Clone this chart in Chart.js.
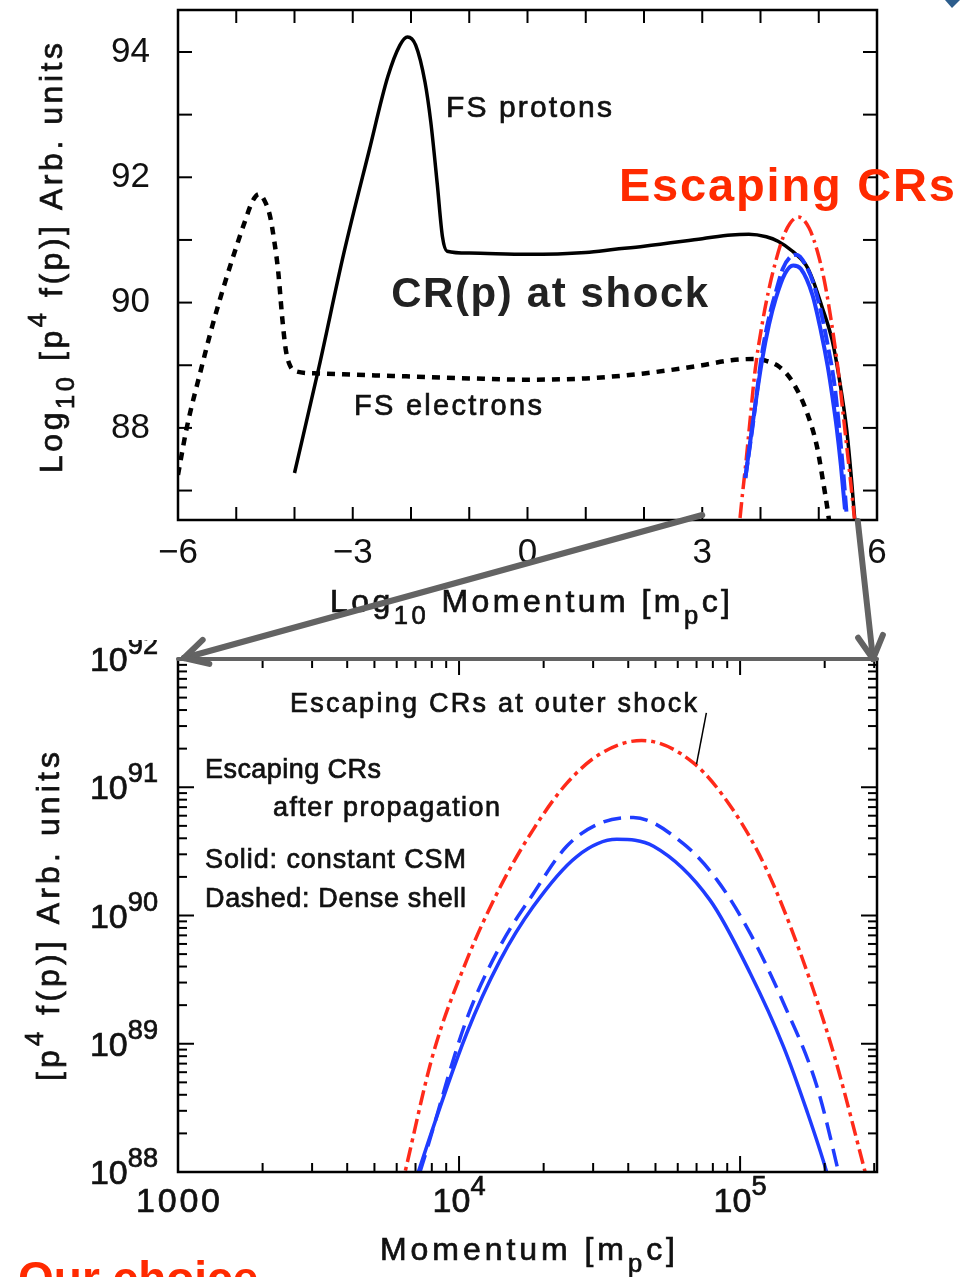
<!DOCTYPE html>
<html>
<head>
<meta charset="utf-8">
<script src="https://cdn.jsdelivr.net/npm/chart.js@4.4.1/dist/chart.umd.min.js"></script>
<style>
  html, body { margin: 0; padding: 0; background: #fff; }
  #wrap { position: relative; width: 977px; height: 1277px; overflow: hidden; }
  canvas { position: absolute; left: 0; }
  #topChart { top: 0; }
  #bottomChart { top: 640px; }
  #overlay { top: 0; pointer-events: none; }
</style>
</head>
<body>
<div id="wrap">
  <canvas id="topChart" width="977" height="640"></canvas>
  <canvas id="bottomChart" width="977" height="637"></canvas>
  <canvas id="overlay" width="977" height="1277"></canvas>
</div>
<script>
// ---- data (log10 momentum [mpc], log10 p^4 f(p)) ----
// FS electrons (top panel, dashed black)
const electronLogP = [-6, -5.85, -5.6, -5.41, -5.2, -5.03, -4.85, -4.72, -4.61, -4.5, -4.42, -4.35, -4.28, -4.21, -4.15, -4.08, -3.96, -3.6, -3, -2, -1, 0, 1, 2, 3, 3.5, 3.87, 4.1, 4.33, 4.56, 4.8, 4.97, 5.07, 5.16, 5.22];
const electronLogF = [87.25, 88.0, 88.95, 89.63, 90.3, 90.8, 91.3, 91.62, 91.73, 91.6, 91.38, 91.0, 90.5, 89.75, 89.25, 89.0, 88.9, 88.87, 88.85, 88.82, 88.79, 88.77, 88.79, 88.87, 89.0, 89.08, 89.1, 89.07, 88.97, 88.72, 88.24, 87.7, 87.17, 86.64, 86.2];

// FS protons (top panel, solid black)
const protonLogP = [-4.0, -3.58, -3.15, -2.72, -2.4, -2.19, -2.06, -1.92, -1.76, -1.66, -1.55, -1.46, -1.38, -1.0, 0, 1, 1.5, 2, 3, 3.5, 3.8, 4.1, 4.3, 4.55, 4.78, 4.9, 5.05, 5.23, 5.35, 5.48, 5.56, 5.62, 5.66];
const protonLogF = [87.28, 88.97, 90.8, 92.42, 93.6, 94.11, 94.24, 94.11, 93.52, 92.88, 91.9, 91.05, 90.82, 90.79, 90.77, 90.8, 90.85, 90.9, 91.02, 91.08, 91.09, 91.05, 90.98, 90.82, 90.6, 90.36, 89.95, 89.4, 88.8, 87.97, 87.2, 86.53, 86.2];

// Escaping CRs at outer shock (red dash-dot, both panels)
const shockLogP = [3.6, 3.68, 3.75, 3.808, 3.909, 4.027, 4.146, 4.264, 4.383, 4.502, 4.65, 4.834, 4.976, 5.095, 5.214, 5.332, 5.445, 5.54, 5.63];
const shockLogF = [86.1, 86.85, 87.45, 88.0, 88.93, 89.65, 90.22, 90.67, 91.03, 91.26, 91.365, 91.19, 90.82, 90.355, 89.71, 88.93, 88.0, 87.2, 86.4];

// After propagation, constant CSM (blue solid)
const solidLogP = [3.74, 3.855, 4.027, 4.146, 4.264, 4.419, 4.561, 4.692, 4.893, 5.036, 5.154, 5.237, 5.308, 5.38, 5.45];
const solidLogF = [87.2, 88.0, 89.08, 89.65, 90.07, 90.46, 90.594, 90.54, 90.12, 89.55, 88.98, 88.48, 88.0, 87.4, 86.7];

// After propagation, dense shell (blue dashed)
const denseLogP = [3.74, 3.861, 4.027, 4.146, 4.264, 4.383, 4.502, 4.62, 4.798, 4.917, 5.036, 5.154, 5.273, 5.35, 5.42, 5.48];
const denseLogF = [87.2, 88.0, 89.19, 89.76, 90.17, 90.54, 90.72, 90.765, 90.56, 90.28, 89.86, 89.32, 88.67, 88.0, 87.3, 86.6];

// ticks
const topXTicks = [-6, -3, 0, 3, 6];
const topYTicks = [88, 90, 92, 94];
const bottomXTicks = [1000, 1e4, 1e5];
const bottomYExponents = [88, 89, 90, 91, 92];

const FONT = '"Liberation Sans", Arial, Helvetica, sans-serif';
const RED = '#ff2a1a';
const BLUE = '#1f3cff';
const INK = '#111';

// Draw text char by char, optional sub/superscripts, spread to a target width
function drawRich(ctx, parts, x, y, o) {
    const size = o.size;
    const weight = o.weight || 'normal';
    const glyphs = [];
    parts.forEach(([text, kind]) => {
        const s = kind === 'n' ? size : size * 0.8;
        const dy = kind === 'sub' ? size * 0.38 : kind === 'sup' ? -size * 0.5 : 0;
        ctx.font = `${weight} ${s}px ${FONT}`;
        for (const ch of text) glyphs.push({ ch, s, dy, w: ctx.measureText(ch).width });
    });
    const natural = glyphs.reduce((sum, g) => sum + g.w, 0);
    const total = o.width || natural;
    const gap = glyphs.length > 1 ? (total - natural) / (glyphs.length - 1) : 0;
    let cx = o.align === 'center' ? -total / 2 : o.align === 'right' ? -total : 0;
    ctx.save();
    ctx.translate(x, y);
    if (o.rotate) ctx.rotate(o.rotate);
    ctx.fillStyle = o.color || INK;
    ctx.strokeStyle = o.color || INK;
    ctx.lineWidth = 0.7;
    ctx.textAlign = 'left';
    ctx.textBaseline = 'alphabetic';
    glyphs.forEach(g => {
        ctx.font = `${weight} ${g.s}px ${FONT}`;
        ctx.fillText(g.ch, cx, g.dy);
        // slightly heavier strokes for the plain plot lettering
        if (weight === 'normal') ctx.strokeText(g.ch, cx, g.dy);
        cx += g.w + gap;
    });
    ctx.restore();
}

function line(ctx, x1, y1, x2, y2) {
    ctx.beginPath();
    ctx.moveTo(x1, y1);
    ctx.lineTo(x2, y2);
    ctx.stroke();
}

function series(lp, lf, pow) {
    return lp.map((v, i) => pow ? { x: 10 ** v, y: 10 ** lf[i] } : { x: v, y: lf[i] });
}

function curve(data, color, width, dash, order) {
    return {
        data: data,
        borderColor: color,
        borderWidth: width,
        borderDash: dash,
        borderCapStyle: 'butt',
        pointRadius: 0,
        fill: false,
        cubicInterpolationMode: 'monotone',
        clip: 0,
        order: order
    };
}

// keep the plot box exactly where the axis sizes put it
function fixSize(prop, value) {
    return s => {
        s[prop] = value;
        s.paddingTop = 0;
        s.paddingBottom = 0;
        s.paddingLeft = 0;
        s.paddingRight = 0;
    };
}

// Frame with inward ticks on all four sides
function makeFrame(xMarks, yMarks) {
    return {
        id: 'frame',
        afterDatasetsDraw(chart) {
            const { ctx, chartArea: a, scales: { x, y } } = chart;
            ctx.save();
            ctx.strokeStyle = '#000';
            ctx.lineWidth = 2;
            xMarks.forEach(([v, len]) => {
                const px = x.getPixelForValue(v);
                line(ctx, px, a.bottom, px, a.bottom - len);
                line(ctx, px, a.top, px, a.top + len);
            });
            yMarks.forEach(([v, len]) => {
                const py = y.getPixelForValue(v);
                line(ctx, a.left, py, a.left + len, py);
                line(ctx, a.right, py, a.right - len, py);
            });
            ctx.lineWidth = 2.5;
            ctx.strokeRect(a.left, a.top, a.width, a.height);
            ctx.restore();
        }
    };
}

// Text notes placed by data value, plus axis titles placed by pixel
function makeNotes(items, extra) {
    return {
        id: 'notes',
        afterDraw(chart) {
            const { ctx, scales: { x, y } } = chart;
            items.forEach(n => {
                const px = n.at ? x.getPixelForValue(n.at[0]) : n.px[0];
                const py = n.at ? y.getPixelForValue(n.at[1]) : n.px[1];
                drawRich(ctx, n.parts, px, py, n);
            });
            if (extra) extra(chart);
        }
    };
}

// ---------------- top panel ----------------
const topXMarks = [];
for (let v = -6; v <= 6; v++) topXMarks.push([v, 13]);
const topYMarks = [];
for (let v = 87; v <= 94; v++) topYMarks.push([v, 14]);

const topNotes = [
    { parts: [['FS protons', 'n']], at: [-1.40, 92.96], size: 30, width: 166 },
    { parts: [['FS electrons', 'n']], at: [-2.98, 88.21], size: 29, width: 188 },
    { parts: [['CR(p) at shock', 'n']], at: [-2.34, 89.93], size: 42, weight: 'bold', width: 317, color: '#222' },
    { parts: [['Escaping CRs', 'n']], at: [1.57, 91.62], size: 47, weight: 'bold', width: 336, color: '#ff2a00' },
    { parts: [['Log', 'n'], ['10', 'sub'], [' Momentum [m', 'n'], ['p', 'sub'], ['c]', 'n']], px: [330, 612], size: 32, width: 400 },
    { parts: [['Log', 'n'], ['10', 'sub'], [' [p', 'n'], ['4', 'sup'], [' f(p)] Arb. units', 'n']], px: [62, 473], size: 32, width: 430, rotate: -Math.PI / 2 }
];

const topChart = new Chart(document.getElementById('topChart'), {
    type: 'line',
    data: {
        datasets: [
            curve(series(electronLogP, electronLogF), '#000', 4.5, [8, 7], 5),
            curve(series(protonLogP, protonLogF), '#000', 3.5, [], 4),
            curve(series(shockLogP, shockLogF), RED, 3.5, [16, 5, 3, 5], 3),
            curve(series(denseLogP, denseLogF), BLUE, 4, [16, 5], 2),
            curve(series(solidLogP, solidLogF), BLUE, 4, [], 1)
        ]
    },
    options: {
        responsive: false,
        animation: false,
        layout: { padding: { top: 10, right: 100, left: 0, bottom: 0 } },
        plugins: { legend: { display: false }, tooltip: { enabled: false } },
        scales: {
            x: {
                type: 'linear',
                min: -6,
                max: 6,
                afterFit: fixSize('height', 120),
                afterBuildTicks: s => { s.ticks = topXTicks.map(v => ({ value: v })); },
                grid: { display: false, drawTicks: false },
                border: { display: false },
                ticks: {
                    autoSkip: false,
                    maxRotation: 0,
                    padding: 12,
                    color: INK,
                    font: { size: 35, family: FONT },
                    callback: v => v < 0 ? '\u2212' + (-v) : String(v)
                }
            },
            y: {
                type: 'linear',
                min: 86.53,
                max: 94.67,
                afterFit: fixSize('width', 178),
                afterBuildTicks: s => { s.ticks = topYTicks.map(v => ({ value: v })); },
                grid: { display: false, drawTicks: false },
                border: { display: false },
                ticks: {
                    autoSkip: false,
                    padding: 28,
                    color: INK,
                    font: { size: 35, family: FONT }
                }
            }
        }
    },
    plugins: [makeFrame(topXMarks, topYMarks), makeNotes(topNotes)]
});

// ---------------- bottom panel ----------------
const botXMarks = [];
[3, 4, 5].forEach(d => {
    botXMarks.push([10 ** d, 16]);
    for (let k = 2; k <= 9; k++) if (k * 10 ** d <= 3.07e5) botXMarks.push([k * 10 ** d, 9]);
});
const botYMarks = [];
[88, 89, 90, 91].forEach(d => {
    botYMarks.push([10 ** d, 16]);
    for (let k = 2; k <= 9; k++) botYMarks.push([k * 10 ** d, 9]);
});
botYMarks.push([1e92, 16]);

const bottomNotes = [
    { parts: [['Escaping CRs at outer shock', 'n']], at: [10 ** 3.3986, 10 ** 91.587], size: 27, width: 407 },
    { parts: [['Escaping CRs', 'n']], at: [10 ** 3.0961, 10 ** 91.072], size: 27, width: 176 },
    { parts: [['after propagation', 'n']], at: [10 ** 3.338, 10 ** 90.776], size: 27, width: 227 },
    { parts: [['Solid: constant CSM', 'n']], at: [10 ** 3.0961, 10 ** 90.37], size: 27, width: 261 },
    { parts: [['Dashed: Dense shell', 'n']], at: [10 ** 3.0961, 10 ** 90.066], size: 27, width: 261 },
    { parts: [['Momentum [m', 'n'], ['p', 'sub'], ['c]', 'n']], px: [380, 620], size: 32, width: 295 },
    { parts: [['[p', 'n'], ['4', 'sup'], [' f(p)] Arb. units', 'n']], px: [59, 441], size: 32, width: 329, rotate: -Math.PI / 2 }
];

function bottomTickLabels(chart) {
    const { ctx, chartArea: a, scales: { x, y } } = chart;
    bottomXTicks.forEach(v => {
        const px = x.getPixelForValue(v);
        const e = Math.round(Math.log10(v));
        const parts = e === 3 ? [['1000', 'n']] : [['10', 'n'], [String(e), 'sup']];
        drawRich(ctx, parts, px, a.bottom + 40, { size: 34, align: 'center', width: e === 3 ? 84 : undefined });
    });
    bottomYExponents.forEach(e => {
        const py = y.getPixelForValue(10 ** e);
        drawRich(ctx, [['10', 'n'], [String(e), 'sup']], a.left - 20, py + 12, { size: 34, align: 'right' });
    });
    // leader line to the outer-shock curve
    ctx.save();
    ctx.strokeStyle = '#000';
    ctx.lineWidth = 1.5;
    line(ctx, x.getPixelForValue(10 ** 4.88), y.getPixelForValue(10 ** 91.58),
         x.getPixelForValue(10 ** 4.845), y.getPixelForValue(10 ** 91.18));
    ctx.restore();
}

const bottomChart = new Chart(document.getElementById('bottomChart'), {
    type: 'line',
    data: {
        datasets: [
            curve(series(shockLogP, shockLogF, true), RED, 3.5, [15, 5, 4, 5], 3),
            curve(series(denseLogP, denseLogF, true), BLUE, 3.5, [18, 9], 2),
            curve(series(solidLogP, solidLogF, true), BLUE, 3.5, [], 1)
        ]
    },
    options: {
        responsive: false,
        animation: false,
        layout: { padding: { top: 19, right: 100, left: 0, bottom: 0 } },
        plugins: { legend: { display: false }, tooltip: { enabled: false } },
        scales: {
            x: {
                type: 'logarithmic',
                min: 1000,
                max: 3.07e5,
                afterFit: fixSize('height', 105),
                grid: { display: false, drawTicks: false },
                border: { display: false },
                ticks: { display: false }
            },
            y: {
                type: 'logarithmic',
                min: 1e88,
                max: 1e92,
                afterFit: fixSize('width', 178),
                grid: { display: false, drawTicks: false },
                border: { display: false },
                ticks: { display: false }
            }
        }
    },
    plugins: [makeFrame(botXMarks, botYMarks), makeNotes(bottomNotes, bottomTickLabels)]
});

// ---------------- overlay: zoom arrows and slide leftovers ----------------
function drawOverlay() {
    const ctx = document.getElementById('overlay').getContext('2d');
    const a1 = topChart.chartArea;
    const a2 = bottomChart.chartArea;
    const off = 640;
    const gray = '#636363';

    function arrow(x1, y1, x2, y2) {
        const ang = Math.atan2(y2 - y1, x2 - x1);
        line(ctx, x1, y1, x2, y2);
        [0.5, -0.5].forEach(d => {
            line(ctx, x2, y2, x2 - 26 * Math.cos(ang + d), y2 - 26 * Math.sin(ang + d));
        });
    }

    ctx.save();
    ctx.strokeStyle = gray;
    ctx.lineCap = 'round';
    ctx.lineWidth = 4;
    line(ctx, a2.left, a2.top + off, a2.right, a2.top + off);
    ctx.lineWidth = 6;
    arrow(topChart.scales.x.getPixelForValue(3), a1.bottom - 5, a2.left + 6, a2.top + off - 1);
    arrow(topChart.scales.x.getPixelForValue(5.67), a1.bottom + 1, a2.right - 4, a2.top + off);
    ctx.restore();

    // red slide caption cut by the bottom edge
    ctx.save();
    ctx.fillStyle = '#ff2a00';
    ctx.font = `bold 46px ${FONT}`;
    ctx.fillText('Our choice', 18, 1294);
    // corner of a slide icon
    ctx.fillStyle = '#2c5d8c';
    ctx.beginPath();
    ctx.moveTo(945, 0);
    ctx.lineTo(960, 0);
    ctx.lineTo(952, 8);
    ctx.closePath();
    ctx.fill();
    ctx.restore();
}
drawOverlay();
</script>
</body>
</html>
